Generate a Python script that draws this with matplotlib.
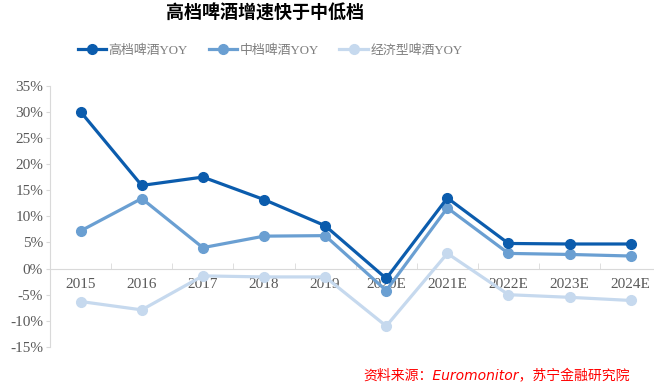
import numpy as np
import matplotlib
matplotlib.use("Agg")
from matplotlib import pyplot as plt
from matplotlib.ticker import FuncFormatter, FixedLocator

# 数据
years = ["2015", "2016", "2017", "2018", "2019", "2020E", "2021E", "2022E", "2023E", "2024E"]
high_yoy = [30.0, 15.9, 17.5, 13.2, 8.2, -1.9, 13.5, 4.8, 4.7, 4.7]
mid_yoy = [7.2, 13.4, 4.0, 6.2, 6.3, -4.2, 11.6, 2.9, 2.7, 2.4]
eco_yoy = [-6.3, -7.9, -1.4, -1.6, -1.6, -11.0, 2.9, -5.0, -5.5, -6.1]
names = ["高档啤酒YOY", "中档啤酒YOY", "经济型啤酒YOY"]
colors = ["#0b5cad", "#6a9fd2", "#c6d9ee"]

plt.rcParams["font.family"] = ["Liberation Serif", "Noto Sans CJK SC"]

fig = plt.figure(figsize=(6.54, 3.89), dpi=100)
ax = fig.add_axes([0.0765, 0.108, 0.93, 0.672])

x = np.arange(len(years))
series = [high_yoy, mid_yoy, eco_yoy]
handles = []
# 先画浅色，深色压在上面
for i in [2, 1, 0]:
    h, = ax.plot(x, series[i], color=colors[i], lw=2.3, marker="o", ms=7,
                 label=names[i], zorder=3 + (2 - i))
    handles.append(h)
handles = handles[::-1]

ax.set_ylim(-15, 35)
ax.set_xlim(-0.5, 9.45)
ax.set_yticks(np.arange(-15, 36, 5))
ax.yaxis.set_major_formatter(FuncFormatter(lambda v, p: "%d%%" % v))

ax.spines["top"].set_visible(False)
ax.spines["right"].set_visible(False)
ax.spines["left"].set_color("#d9d9d9")
ax.spines["bottom"].set_color("#d9d9d9")
ax.spines["bottom"].set_position(("data", 0))
ax.spines["bottom"].set_zorder(1)

ax.set_xticks(x)
ax.set_xticklabels(years)
ax.xaxis.set_minor_locator(FixedLocator(np.arange(0.5, 9.5, 1)))
ax.tick_params(axis="x", which="major", length=0, pad=7, labelsize=11, labelcolor="#595959")
ax.tick_params(axis="x", which="minor", length=4, color="#d9d9d9", direction="in")
ax.tick_params(axis="y", length=3, color="#d9d9d9", labelsize=11, labelcolor="#595959", pad=2)

fig.text(0.405, 0.965, "高档啤酒增速快于中低档", ha="center", va="center",
         fontsize=13, fontweight="bold", family=["Noto Sans CJK SC"], color="#000000")

leg = fig.legend(handles=handles, loc="center", bbox_to_anchor=(0.413, 0.87), ncol=3,
                 frameon=False, fontsize=9.3, handlelength=2.2, columnspacing=1.6,
                 handletextpad=0.2)
for t in leg.get_texts():
    t.set_color("#7f7f7f")

fig.text(0.963, 0.033, "资料来源：Euromonitor，苏宁金融研究院", ha="right", va="center",
         fontsize=10, color="#ff0000", style="italic",
         family=["DejaVu Sans", "Noto Sans CJK SC"])

fig.savefig("out.png", dpi=100)
